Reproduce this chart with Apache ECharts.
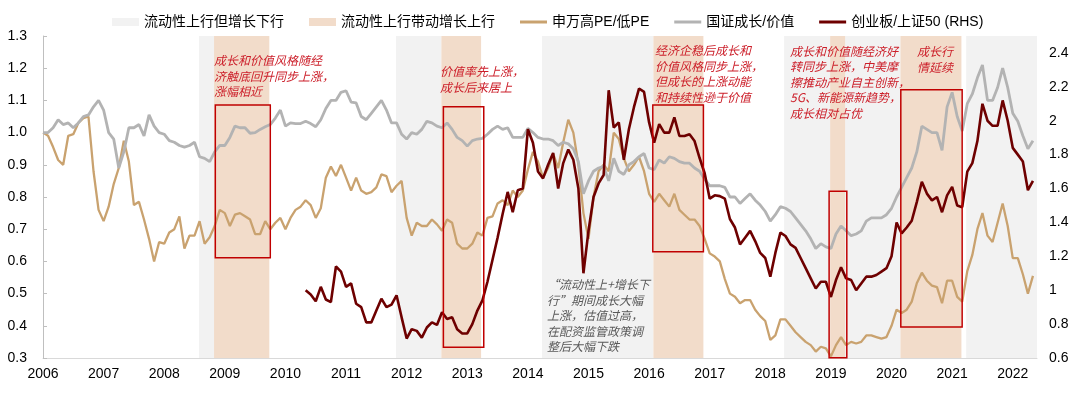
<!DOCTYPE html>
<html><head><meta charset="utf-8">
<script src="https://cdn.jsdelivr.net/npm/echarts@6/dist/echarts.min.js"></script>
<style>html,body{margin:0;padding:0;background:#fff}#c{width:1080px;height:394px}</style>
</head><body><div id="c"></div>
<script>
// ---------- DATA (monthly, first point = Jan 2006) ----------
const startYear = 2006;
const hpeLpe = [
1.00,0.99,0.955,0.915,0.90,0.99,0.995,1.03,1.045,1.05,0.88,0.76,
0.725,0.77,0.84,0.89,0.975,0.91,0.775,0.785,0.73,0.67,0.60,0.66,
0.655,0.69,0.70,0.74,0.64,0.68,0.68,0.725,0.655,0.675,0.71,0.76,
0.75,0.71,0.745,0.75,0.74,0.73,0.685,0.685,0.725,0.70,0.72,0.735,
0.70,0.735,0.76,0.77,0.79,0.775,0.735,0.765,0.86,0.895,0.865,0.90,
0.86,0.82,0.86,0.82,0.81,0.815,0.83,0.87,0.865,0.815,0.835,0.85,
0.735,0.68,0.72,0.71,0.71,0.73,0.715,0.695,0.73,0.72,0.655,0.64,
0.64,0.655,0.69,0.68,0.735,0.74,0.78,0.79,0.775,0.82,0.80,0.82,
0.885,0.94,0.91,0.86,0.89,0.935,0.89,0.97,1.04,1.00,0.90,0.75,
0.67,0.80,0.88,0.90,0.88,1.00,0.98,0.92,0.88,0.90,0.925,0.88,
0.81,0.785,0.81,0.79,0.77,0.81,0.76,0.745,0.73,0.73,0.71,0.67,
0.625,0.615,0.60,0.545,0.50,0.49,0.47,0.48,0.48,0.45,0.43,0.415,
0.356,0.37,0.42,0.42,0.40,0.38,0.365,0.35,0.34,0.32,0.335,0.33,
0.305,0.34,0.365,0.34,0.35,0.345,0.35,0.37,0.37,0.365,0.36,0.365,
0.40,0.45,0.44,0.45,0.475,0.532,0.565,0.54,0.525,0.52,0.47,0.54,
0.54,0.49,0.475,0.57,0.62,0.70,0.75,0.68,0.66,0.72,0.78,0.71,
0.61,0.61,0.56,0.50,0.555
];
const growthValue = [
1.00,1.00,1.015,1.04,1.025,1.03,1.015,1.03,1.05,1.055,1.08,1.10,
1.07,1.00,0.98,0.89,0.94,1.015,1.015,1.025,0.99,1.055,1.02,1.00,
0.995,0.975,0.97,0.96,0.955,0.96,0.97,0.925,0.92,0.91,0.94,0.96,
0.96,0.985,1.02,1.015,1.015,0.998,1.00,1.01,1.018,1.025,1.045,1.07,
1.02,1.03,1.028,1.028,1.035,1.028,1.018,1.04,1.075,1.10,1.10,1.125,
1.13,1.095,1.092,1.05,1.04,1.06,1.08,1.10,1.07,1.03,1.03,0.995,
0.98,1.00,0.995,1.01,1.035,1.03,1.02,1.015,1.03,1.01,0.985,0.975,
0.958,0.975,0.98,0.982,0.995,1.01,1.02,1.01,1.015,0.985,0.985,0.985,
1.013,1.00,0.985,0.98,0.98,0.975,0.96,0.97,0.965,0.95,0.91,0.81,
0.85,0.88,0.89,0.895,0.85,0.92,0.88,0.87,0.90,0.91,0.925,0.935,
0.89,0.885,0.915,0.905,0.925,0.92,0.91,0.905,0.905,0.89,0.88,0.855,
0.835,0.835,0.835,0.83,0.80,0.80,0.78,0.795,0.81,0.79,0.775,0.755,
0.725,0.745,0.77,0.765,0.755,0.735,0.715,0.695,0.67,0.64,0.655,0.645,
0.64,0.685,0.71,0.695,0.68,0.685,0.695,0.725,0.735,0.735,0.735,0.745,
0.765,0.80,0.83,0.86,0.89,0.94,1.02,1.01,1.00,1.00,0.945,1.08,
1.125,1.05,1.005,1.09,1.12,1.17,1.21,1.10,1.10,1.14,1.20,1.14,
1.06,1.035,0.99,0.95,0.975
];
const cybStartIndex = 52; // May 2010
const cybSz50 = [
1.00,0.975,0.935,1.02,0.945,0.93,1.14,1.11,1.02,1.04,0.92,0.90,
0.81,0.81,0.88,0.95,0.90,0.915,0.97,0.84,0.715,0.77,0.76,0.72,
0.78,0.81,0.795,0.87,0.83,0.84,0.77,0.745,0.745,0.80,0.88,0.94,
1.05,1.18,1.31,1.45,1.58,1.46,1.59,1.60,1.95,1.87,1.70,1.66,
1.74,1.81,1.60,1.75,1.83,1.77,1.60,1.10,1.35,1.55,1.63,1.68,
2.18,1.96,1.99,1.77,1.95,2.08,2.19,2.17,1.99,1.87,1.98,1.93,
1.93,2.02,1.91,1.91,1.92,1.88,1.78,1.69,1.54,1.56,1.555,1.54,
1.42,1.37,1.27,1.31,1.35,1.29,1.22,1.19,1.08,1.22,1.34,1.32,
1.27,1.25,1.19,1.13,1.07,1.01,1.05,1.05,0.96,1.06,1.135,1.07,
1.06,1.00,1.04,1.08,1.08,1.09,1.11,1.13,1.20,1.40,1.335,1.37,
1.41,1.52,1.64,1.57,1.53,1.55,1.46,1.56,1.61,1.50,1.49,1.70,
1.75,1.88,2.10,2.00,1.97,1.97,2.12,2.00,1.84,1.80,1.76,1.59,
1.645
];
// shaded periods (fractional years)
const grayBands = [[2008.574,2008.822],[2011.825,2012.573],[2014.234,2016.071],[2018.228,2018.987],[2019.234,2020.147],[2021.231,2022.4]];
const peachBands = [[2008.822,2009.734],[2012.573,2013.228],[2016.071,2016.896],[2018.987,2019.234],[2020.147,2021.153]];
// red boxes: [x1, x2, yLow, yHigh] on left axis
const boxes = [[2008.843,2009.750,0.611,1.086],[2012.606,2013.272,0.333,1.080],[2016.061,2016.896,0.630,1.086],[2018.970,2019.262,0.301,0.818],[2020.153,2021.165,0.396,1.133]];
const legendNames = ['流动性上行但增长下行','流动性上行带动增长上行','申万高PE/低PE','国证成长/价值','创业板/上证50 (RHS)'];
const notes = [
  ['成长和价值风格随经','济触底回升同步上涨，','涨幅相近'],
  ['价值率先上涨，','成长后来居上'],
  ['经济企稳后成长和','价值风格同步上涨，','但成长的上涨动能','和持续性逊于价值'],
  ['成长和价值随经济好','转同步上涨，中美摩','擦推动产业自主创新，','5G、新能源新趋势，','成长相对占优'],
  ['成长行','情延续'],
  ['“流动性上+增长下','行”期间成长大幅','上涨，估值过高，','在配资监管政策调','整后大幅下跌']
];

// ---------- CHART ----------
const FONT = '"Liberation Sans", Arial, "Noto Sans CJK SC", sans-serif';
const toPairs = (arr, offset) => arr.map((v, k) => [startYear + (k + offset) / 12, v]);
const notePos = [[214,53,'#cc1f2a'],[440,64,'#cc1f2a'],[655,43,'#cc1f2a'],[790,43.5,'#cc1f2a'],[917,44,'#cc1f2a'],[547,277,'#595959']];
const LINE_ICON = 'path://M0,0H27V3H0Z';

const chart = echarts.init(document.getElementById('c'));
chart.setOption({
  animation: false,
  textStyle: {fontFamily: FONT},
  grid: {left: 43, right: 43, top: 36, bottom: 36, containLabel: false},
  legend: {
    left: 107, top: 10, itemWidth: 27, itemHeight: 8, itemGap: 25,
    textStyle: {fontSize: 14, color: '#000', fontFamily: FONT},
    data: [
      {name: legendNames[0], icon: 'rect', itemStyle: {color: '#f2f2f2'}},
      {name: legendNames[1], icon: 'rect', itemStyle: {color: '#f2dcca'}},
      {name: legendNames[2], icon: LINE_ICON, itemStyle: {color: '#c9a26f'}},
      {name: legendNames[3], icon: LINE_ICON, itemStyle: {color: '#b3b3b3'}},
      {name: legendNames[4], icon: LINE_ICON, itemStyle: {color: '#6e0000'}}
    ]
  },
  xAxis: {
    type: 'value', min: 2006, max: 2022.4, interval: 1,
    axisLine: {lineStyle: {color: '#d9d9d9', width: 1}},
    axisTick: {show: false}, splitLine: {show: false},
    axisLabel: {fontSize: 14, color: '#000', margin: 9, showMaxLabel: false,
      formatter: v => Number.isInteger(Math.round(v*1000)/1000) ? String(Math.round(v)) : ''}
  },
  yAxis: [{
    type: 'value', position: 'left', min: 0.3, max: 1.3, interval: 0.1,
    axisLine: {show: true, lineStyle: {color: '#bfbfbf'}},
    axisTick: {show: true, inside: true, length: 4, lineStyle: {color: '#bfbfbf'}},
    splitLine: {show: false},
    axisLabel: {fontSize: 14, color: '#000', margin: 16, formatter: v => v.toFixed(1)}
  }, {
    type: 'value', position: 'right', min: 0.6, max: 2.5, interval: 0.2,
    axisLine: {show: false}, axisTick: {show: false}, splitLine: {show: false},
    axisLabel: {fontSize: 14, color: '#000', margin: 12, showMaxLabel: false}
  }],
  series: [
    {name: legendNames[0], type: 'line', data: [], z: 0, silent: true,
     itemStyle: {color: '#f2f2f2'}, lineStyle: {color: '#f2f2f2'},
     markArea: {silent: true, z: 0, itemStyle: {color: '#f2f2f2'}, label: {show: false},
       data: grayBands.map(b => [{xAxis: b[0]}, {xAxis: b[1]}])}},
    {name: legendNames[1], type: 'line', data: [], z: 0, silent: true,
     itemStyle: {color: '#f2dcca'}, lineStyle: {color: '#f2dcca'},
     markArea: {silent: true, z: 0, itemStyle: {color: '#f2dcca'}, label: {show: false},
       data: peachBands.map(b => [{xAxis: b[0]}, {xAxis: b[1]}])}},
    {name: legendNames[2], type: 'line', data: toPairs(hpeLpe, 0), symbol: 'none', z: 3,
     itemStyle: {color: '#c9a26f'}, lineStyle: {color: '#c9a26f', width: 2.3}},
    {name: legendNames[3], type: 'line', data: toPairs(growthValue, 0), symbol: 'none', z: 4,
     itemStyle: {color: '#b3b3b3'}, lineStyle: {color: '#b3b3b3', width: 2.8}},
    {name: legendNames[4], type: 'line', yAxisIndex: 1, data: toPairs(cybSz50, cybStartIndex), symbol: 'none', z: 5,
     itemStyle: {color: '#6e0000'}, lineStyle: {color: '#6e0000', width: 2.6}},
    {name: 'boxes', type: 'line', data: [], z: 10, silent: true,
     markArea: {silent: true, z: 10, label: {show: false},
       itemStyle: {color: 'rgba(0,0,0,0)', borderColor: '#c00000', borderWidth: 1.5},
       data: boxes.map(b => [{xAxis: b[0], yAxis: b[2]}, {xAxis: b[1], yAxis: b[3]}])}}
  ],
  graphic: notes.map((lines, k) => ({
    type: 'text', left: notePos[k][0], top: notePos[k][1], z: 100, silent: true,
    style: {text: lines.join('\n'), fill: notePos[k][2], fontSize: 12, fontStyle: 'italic',
      fontFamily: '"Noto Sans CJK SC", sans-serif', lineHeight: 15.5}
  }))
});
</script>
</body></html>
